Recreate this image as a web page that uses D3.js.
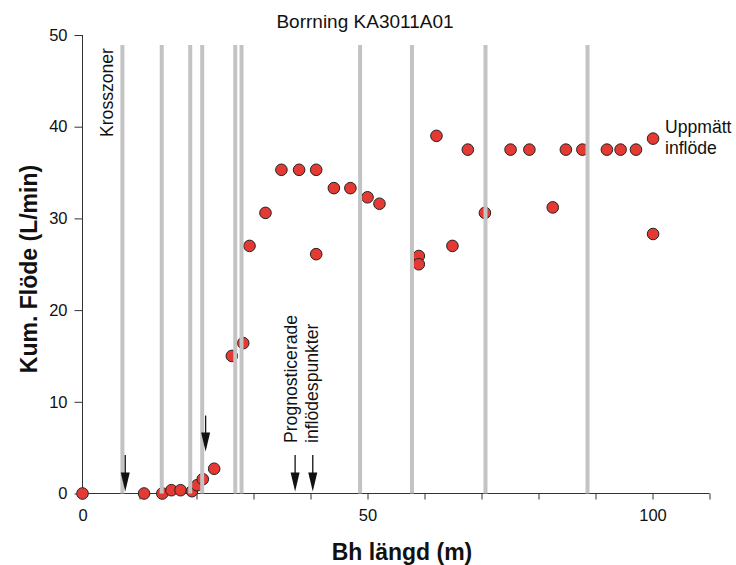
<!DOCTYPE html>
<html>
<head>
<meta charset="utf-8">
<script src="https://cdn.jsdelivr.net/npm/d3@7"></script>
<style>
  body { margin: 0; background: #fff; }
  svg text { font-family: "Liberation Sans", Arial, sans-serif; fill: #111; }
</style>
</head>
<body>
<svg id="chart" width="736" height="565"></svg>
<script>
// measured inflow points: bh length (m) and cumulative flow (L/min)
var flowLength = [0, 10.8, 14.0, 15.6, 17.2, 19.2, 20.1, 21.1, 23.1, 26.2, 28.2,
  29.3, 32.1, 34.9, 38.0, 41.0, 41.0, 44.1, 47.0, 50.0, 52.1, 59.0, 59.0,
  62.1, 64.9, 67.6, 70.6, 75.1, 78.4, 82.5, 84.8, 87.7, 92.0, 94.4, 97.1, 100.1, 100.1];
var flowValue = [0, 0, 0, 0.36, 0.36, 0.25, 0.9, 1.56, 2.7, 15.0, 16.4,
  27.0, 30.6, 35.3, 35.3, 35.3, 26.1, 33.3, 33.3, 32.3, 31.6, 25.9, 25.0,
  39.0, 27.0, 37.5, 30.6, 37.5, 37.5, 31.2, 37.5, 37.5, 37.5, 37.5, 37.5, 38.7, 28.3];

// crush zones along the borehole
var crushZones = [7.0, 13.9, 18.9, 21.0, 26.8, 27.9, 48.7, 57.8, 70.7, 88.6];

// predicted inflow points (arrows) : position and arrow top value
var arrowPos = [7.5, 21.6, 37.3, 40.4];
var arrowTop = [4.2, 8.5, 4.2, 4.2];

var xTicks = [0, 10, 20, 30, 40, 50, 60, 70, 80, 90, 100, 110];
var xLabels = [0, 50, 100];
var yTicks = [0, 10, 20, 30, 40, 50];

var svg = d3.select("#chart");

var x = d3.scaleLinear().domain([0, 110]).range([82.5, 709.5]);
var y = d3.scaleLinear().domain([0, 50]).range([493.5, 35]);

// y axis
var yAxis = d3.axisLeft(y).tickValues(yTicks).tickSize(8).tickPadding(7);
var gy = svg.append("g").attr("transform", "translate(82.5,0)").call(yAxis);
gy.select(".domain").attr("d", "M0," + y(50) + "V" + y(0)).attr("stroke", "#333");
gy.selectAll(".tick line").attr("stroke", "#333");
gy.selectAll(".tick text").style("font-size", "16.5px").attr("fill", "#111");

// x axis
var xAxis = d3.axisBottom(x).tickValues(xTicks).tickSize(6).tickPadding(10)
  .tickFormat(function(d) { return xLabels.indexOf(d) >= 0 ? d : ""; });
var gx = svg.append("g").attr("transform", "translate(0," + y(0) + ")").call(xAxis);
gx.select(".domain").attr("d", "M" + x(0) + ",0H" + x(110)).attr("stroke", "#333");
gx.selectAll(".tick line").attr("stroke", "#333");
gx.selectAll(".tick text").style("font-size", "16.5px").attr("fill", "#111");

// data points
var pts = flowLength.map(function(d, i) { return {x: d, y: flowValue[i]}; });
svg.append("g").selectAll("circle")
  .data(pts)
  .enter()
  .append("circle")
  .attr("cx", function(d) { return x(d.x); })
  .attr("cy", function(d) { return y(d.y); })
  .attr("r", 5.8)
  .attr("fill", "#e53a33")
  .attr("stroke", "#222")
  .attr("stroke-width", 1);

// crush zones drawn over the points
svg.append("g").selectAll("line")
  .data(crushZones)
  .enter()
  .append("line")
  .attr("x1", function(d) { return x(d); })
  .attr("x2", function(d) { return x(d); })
  .attr("y1", y(48.9))
  .attr("y2", y(0))
  .attr("stroke", "#c3c3c3")
  .attr("stroke-width", 4);

// arrows
svg.append("g").selectAll("g")
  .data(arrowPos)
  .enter()
  .append("g")
  .each(function(d, i) {
    var top = y(arrowTop[i]);
    var bottom = i == 1 ? y(0) - 42 : y(0) - 2;
    d3.select(this).append("line")
      .attr("x1", x(d)).attr("x2", x(d))
      .attr("y1", top).attr("y2", bottom - 18)
      .attr("stroke", "#111").attr("stroke-width", 1.3);
    d3.select(this).append("path")
      .attr("d", "M" + (x(d) - 4.5) + "," + (bottom - 19) + "L" + (x(d) + 4.5) + "," + (bottom - 19) + "L" + x(d) + "," + bottom + "Z")
      .attr("fill", "#111");
  });

// texts
svg.append("text")
  .attr("x", 365).attr("y", 28)
  .attr("text-anchor", "middle")
  .style("font-size", "19px")
  .text("Borrning KA3011A01");

svg.append("text")
  .attr("transform", "translate(113,137) rotate(-90)")
  .style("font-size", "17.6px")
  .text("Krosszoner");

svg.append("text")
  .attr("transform", "translate(297,443) rotate(-90)")
  .style("font-size", "17.6px")
  .text("Prognosticerade");
svg.append("text")
  .attr("transform", "translate(318,443) rotate(-90)")
  .style("font-size", "17.6px")
  .text("inflödespunkter");

svg.append("text")
  .attr("x", 665).attr("y", 133)
  .style("font-size", "17.6px")
  .text("Uppmätt");
svg.append("text")
  .attr("x", 665).attr("y", 154)
  .style("font-size", "17.6px")
  .text("inflöde");

svg.append("text")
  .attr("x", 402).attr("y", 560)
  .attr("text-anchor", "middle")
  .style("font-size", "23px")
  .style("font-weight", "bold")
  .text("Bh längd (m)");

svg.append("text")
  .attr("transform", "translate(37,269) rotate(-90)")
  .attr("text-anchor", "middle")
  .style("font-size", "23px")
  .style("font-weight", "bold")
  .text("Kum. Flöde (L/min)");
</script>
</body>
</html>
